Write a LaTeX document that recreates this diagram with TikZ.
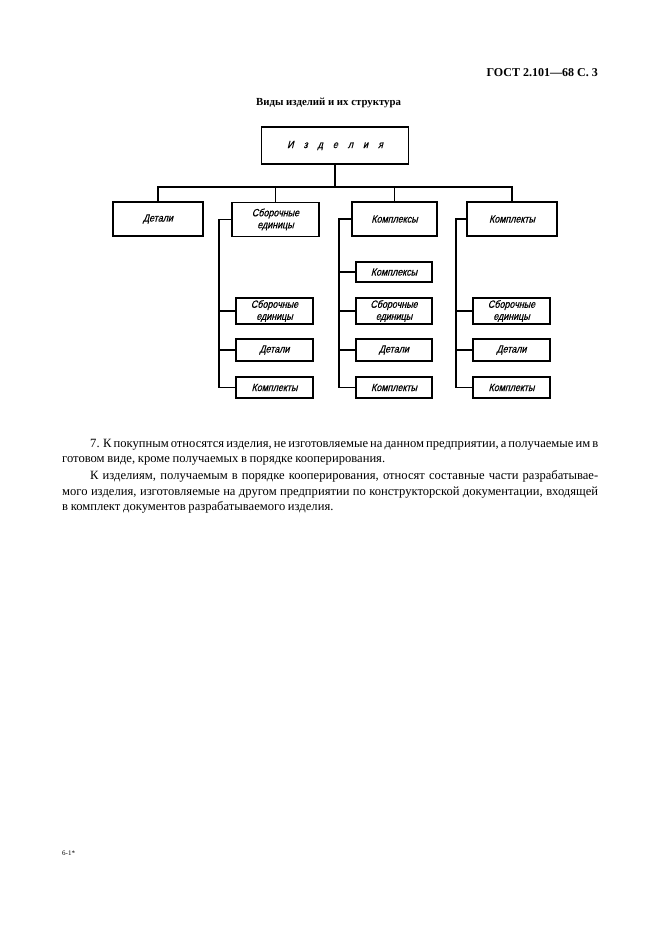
\documentclass[tikz,border=0pt]{standalone}
\usepackage{fontspec}
\setmainfont{Liberation Serif}
\newfontfamily\bodyfont[WordSpace={0.85,1.2,2.2}]{Liberation Serif}
\newfontfamily\draft[FakeStretch=0.85,FakeSlant=0.25,FakeBold=0.6]{Liberation Sans}
\begin{document}
\begin{tikzpicture}[x=1pt,y=-1pt,
  box/.style={draw,line width=1.3pt,inner sep=0pt,align=center,font=\draft\fontsize{10.5}{12}\selectfont},
  conn/.style={line width=1.1pt}]
\useasboundingbox[fill=white] (0,0) rectangle (661,936);
% header
\node[anchor=east,inner sep=0pt,font=\bfseries\fontsize{12}{14}\selectfont] (hdr) at (598,73) {ГОСТ 2.101—68 С. 3};
\node[anchor=west,inner sep=0pt,font=\bfseries\fontsize{10.8}{12}\selectfont] (ttl) at (256,103) {Виды изделий и их структура};
% top box
\node[box,minimum width=147pt,minimum height=37pt] (top) at (335,145.5) {И\hspace{10pt}з\hspace{10pt}д\hspace{10pt}е\hspace{10pt}л\hspace{10pt}и\hspace{10pt}я};
% level 1
\node[box,minimum width=90pt,minimum height=34pt] (n1) at (158,219) {Детали};
\node[box,minimum width=87pt,minimum height=34pt] (n2) at (275.5,219.5) {Сборочные\\единицы};
\node[box,minimum width=85pt,minimum height=34pt] (n3) at (394.5,219) {Комплексы};
\node[box,minimum width=90pt,minimum height=34pt] (n4) at (512,219) {Комплекты};
\coordinate (busc) at (335,187);
\draw[conn] (top.south) -- (top.south |- busc);
\draw[conn] (n1.north) -- (n1.north |- busc) -- (n4.north |- busc) -- (n4.north);
\draw[conn] (n2.north) -- (n2.north |- busc);
\draw[conn] (n3.north) -- (n3.north |- busc);
% column 2
\node[box,minimum width=77pt,minimum height=26pt] (c2s) at (274.5,311) {Сборочные\\единицы};
\node[box,minimum width=77pt,minimum height=22pt] (c2d) at (274.5,350) {Детали};
\node[box,minimum width=77pt,minimum height=21pt] (c2k) at (274.5,387.5) {Комплекты};
\coordinate (b2) at (219,0);
\draw[conn] (n2.west) -- (n2.west -| b2) -- (b2 |- c2k.west) -- (c2k.west);
\draw[conn] (c2s.west) -- (c2s.west -| b2);
\draw[conn] (c2d.west) -- (c2d.west -| b2);
% column 3
\node[box,minimum width=76pt,minimum height=20pt] (c3x) at (394,272) {Комплексы};
\node[box,minimum width=76pt,minimum height=26pt] (c3s) at (394,311) {Сборочные\\единицы};
\node[box,minimum width=76pt,minimum height=22pt] (c3d) at (394,350) {Детали};
\node[box,minimum width=76pt,minimum height=21pt] (c3k) at (394,387.5) {Комплекты};
\coordinate (b3) at (339,0);
\draw[conn] (n3.west) -- (n3.west -| b3) -- (b3 |- c3k.west) -- (c3k.west);
\draw[conn] (c3x.west) -- (c3x.west -| b3);
\draw[conn] (c3s.west) -- (c3s.west -| b3);
\draw[conn] (c3d.west) -- (c3d.west -| b3);
% column 4
\node[box,minimum width=77pt,minimum height=26pt] (c4s) at (511.5,311) {Сборочные\\единицы};
\node[box,minimum width=77pt,minimum height=22pt] (c4d) at (511.5,350) {Детали};
\node[box,minimum width=77pt,minimum height=21pt] (c4k) at (511.5,387.5) {Комплекты};
\coordinate (b4) at (456,0);
\draw[conn] (n4.west) -- (n4.west -| b4) -- (b4 |- c4k.west) -- (c4k.west);
\draw[conn] (c4s.west) -- (c4s.west -| b4);
\draw[conn] (c4d.west) -- (c4d.west -| b4);
% paragraph
\node[anchor=north west,inner sep=0pt,text width=536pt,align=justify,font=\bodyfont\fontsize{12.6}{15.5}\selectfont] (par) at (62,439) {\hspace*{28pt}7. К покупным относятся изделия, не изготовляемые на данном предприятии, а получаемые им в\linebreak готовом виде, кроме получаемых в порядке кооперирования.\par\vspace{1.5pt}
\hspace*{28pt}К изделиям, получаемым в порядке кооперирования, относят составные части разрабатывае-\linebreak мого изделия, изготовляемые на другом предприятии по конструкторской документации, входящей\linebreak в комплект документов разрабатываемого изделия.\par};
% footer
\node[anchor=west,inner sep=0pt,font=\fontsize{7}{8}\selectfont] (ftr) at (62,853) {6-1*};
\end{tikzpicture}
\end{document}
